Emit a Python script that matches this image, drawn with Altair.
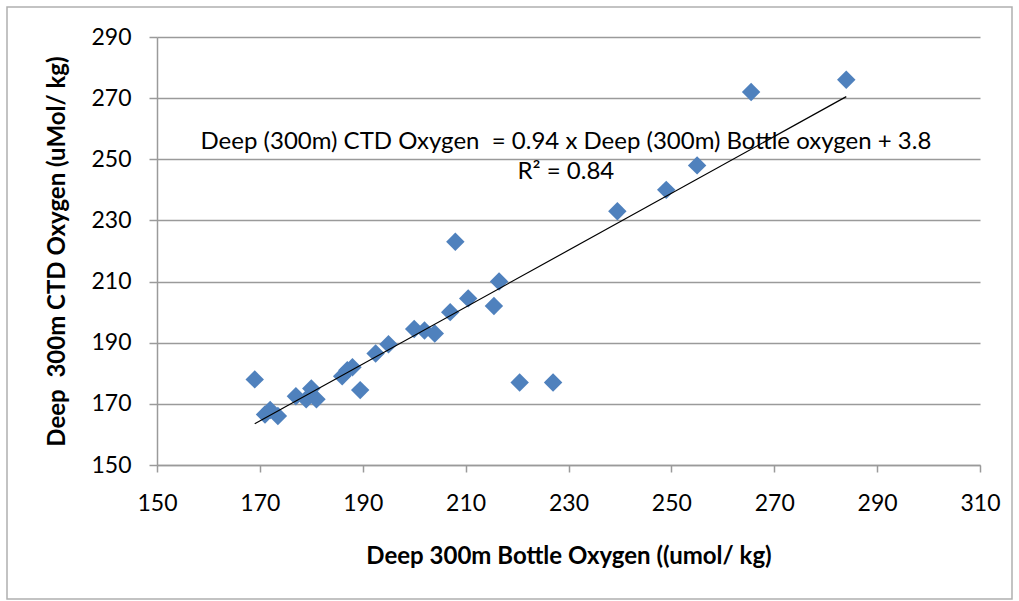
import altair as alt
import pandas as pd

# Scatter data
bottle_o2 = [169, 171, 172, 173.5, 177, 179, 180, 181, 186, 187, 188, 189.5,
             192.5, 195, 200, 202, 204, 207, 208, 210.5, 215.5, 216.5, 220.5,
             227, 239.5, 249, 255, 265.5, 284]
ctd_o2 = [178, 166.5, 168, 166, 172.5, 171.5, 175, 171.5, 179, 181, 182, 174.5,
          186.5, 189.5, 194.5, 194, 193, 200, 223, 204.5, 202, 210, 177,
          177, 233, 240, 248, 272, 276]

# Trend line end points
trend_x = [169, 284]
trend_y = [163.5, 270.5]

# Annotation
ann_text = ["Deep (300m) CTD Oxygen \u00a0= 0.94 x Deep (300m) Bottle oxygen + 3.8",
            "R\u00b2 = 0.84"]
ann_x = [229.5, 229.5]
ann_y = [255.5, 246]

ticks = [150, 170, 190, 210, 230, 250, 270, 290, 310]
yticks = [150, 170, 190, 210, 230, 250, 270, 290]

pts = pd.DataFrame({"x": bottle_o2, "y": ctd_o2})
trend = pd.DataFrame({"x": trend_x, "y": trend_y})
ann = pd.DataFrame({"t": ann_text, "x": ann_x, "y": ann_y})

FONT = "Lato"
GRID = "#9a9a9a"

xscale = alt.Scale(domain=[150, 310], nice=False, zero=False)
yscale = alt.Scale(domain=[150, 290], nice=False, zero=False)

xaxis = alt.Axis(values=ticks, title="Deep 300m Bottle Oxygen ((umol/ kg)",
                 grid=False, domainColor=GRID, domainWidth=1.5, tickColor=GRID,
                 tickWidth=1.5, tickSize=7, labelFont=FONT, labelFontSize=23,
                 labelColor="#000", labelPadding=20, labelFlush=False,
                 titleFont=FONT, titleFontSize=24, titleFontWeight="bold",
                 titleColor="#000", titlePadding=29)
yaxis = alt.Axis(values=yticks, title="Deep \u00a0300m CTD Oxygen (uMol/ kg)",
                 grid=True, gridColor=GRID, gridWidth=1.5, domainColor=GRID,
                 domainWidth=1.5, tickColor=GRID, tickWidth=1.5, tickSize=8,
                 labelFont=FONT, labelFontSize=23, labelColor="#000",
                 labelPadding=18, labelFlush=False, titleFont=FONT,
                 titleFontSize=24, titleFontWeight="bold", titleColor="#000",
                 titlePadding=21)

points = alt.Chart(pts).mark_point(shape="diamond", filled=True, size=340,
                                    color="#4F81BD", opacity=1).encode(
    x=alt.X("x:Q", scale=xscale, axis=xaxis),
    y=alt.Y("y:Q", scale=yscale, axis=yaxis),
)

line = alt.Chart(trend).mark_line(color="#000", strokeWidth=1.2).encode(
    x=alt.X("x:Q", scale=xscale), y=alt.Y("y:Q", scale=yscale))

text = alt.Chart(ann).mark_text(font=FONT, fontSize=24, color="#000",
                                align="center", baseline="middle").encode(
    x=alt.X("x:Q", scale=xscale), y=alt.Y("y:Q", scale=yscale), text="t:N")

frame = alt.Chart(pd.DataFrame({"a": [0]})).mark_rect(
    fill=None, stroke="#b0b0b0", strokeWidth=1.5).encode(
    x=alt.value(-150), x2=alt.value(855), y=alt.value(-30), y2=alt.value(562))

chart = alt.layer(frame, points, line, text).properties(
    width=823, height=428,
    autosize=alt.AutoSizeParams(type="none"),
    padding={"left": 157, "top": 37, "right": 39, "bottom": 136},
    background="white",
).configure_view(stroke=None)

chart.save("out.html", embed_options={"renderer": "svg", "actions": False})
